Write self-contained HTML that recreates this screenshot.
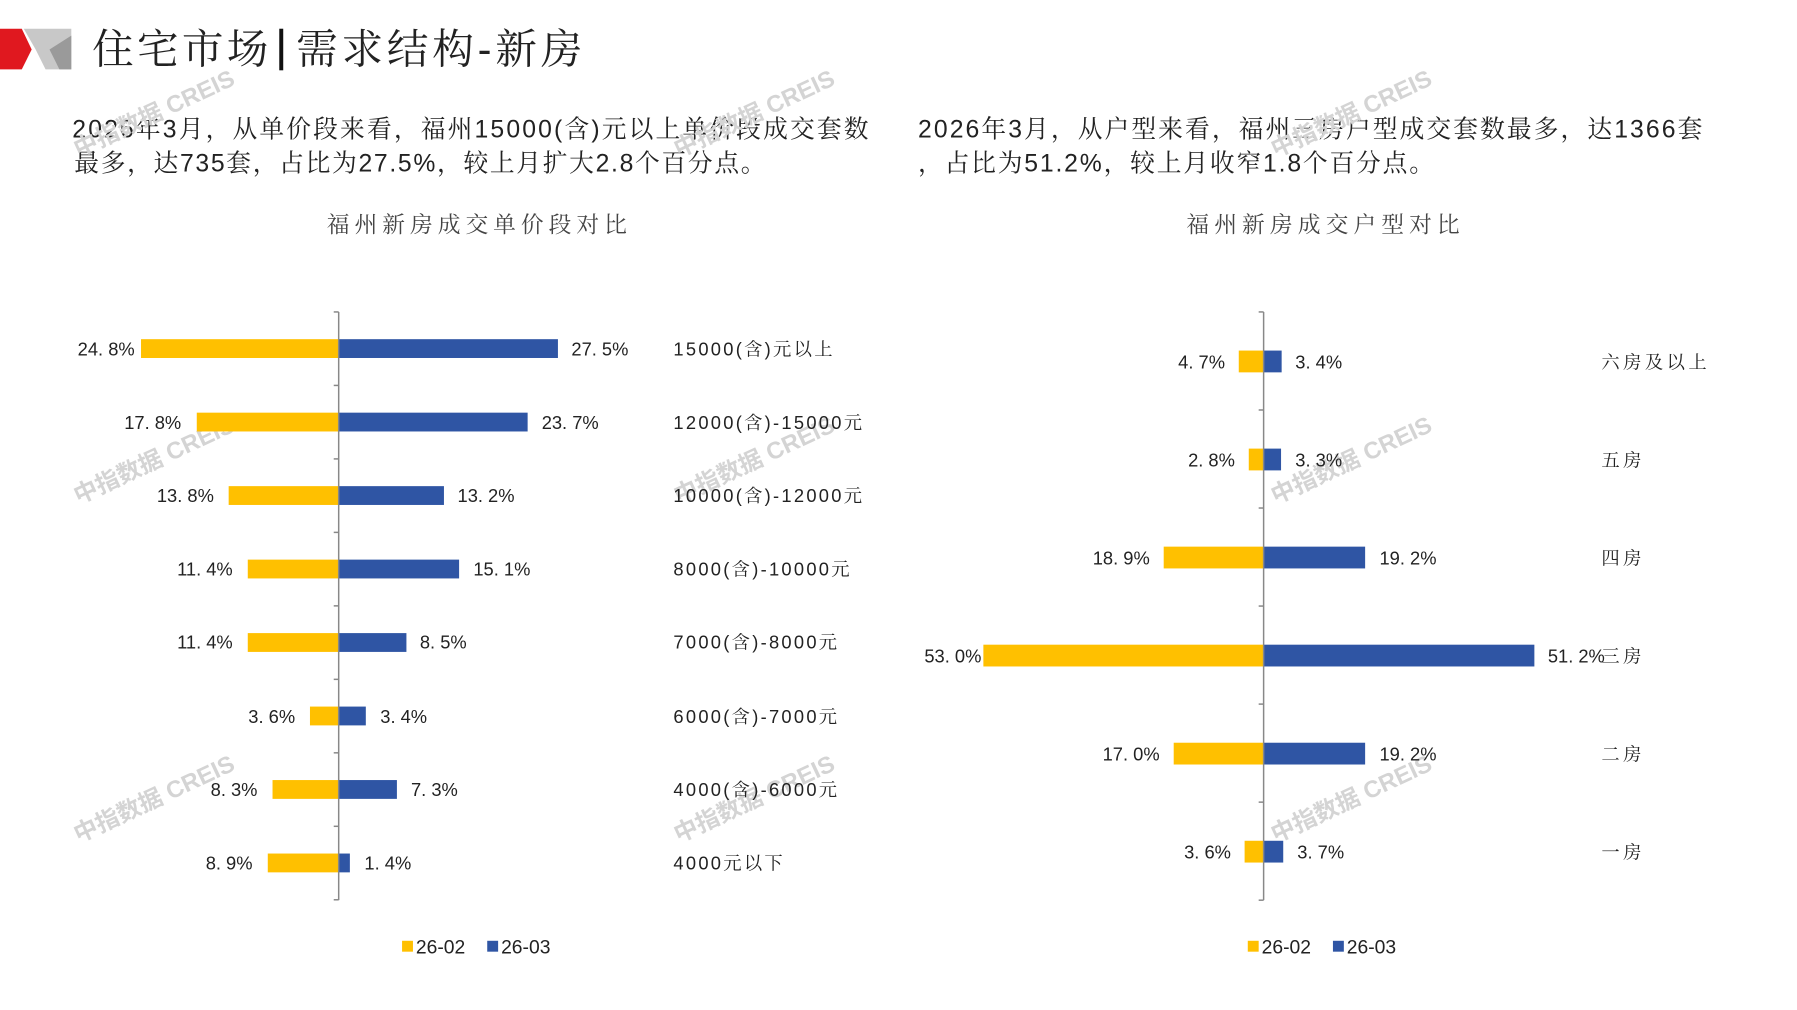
<!DOCTYPE html>
<html><head><meta charset="utf-8"><style>
body{margin:0;background:#fff;}
svg{display:block;}
text{font-family:"Liberation Sans","Noto Serif CJK SC",serif;fill:#222;}
.l{font-size:18.5px;}
.cl{font-size:18.5px;letter-spacing:2.3px;}
.cr{font-size:18.5px;letter-spacing:3.5px;}
.lg{font-size:19.5px;}
.wm{font-family:"Liberation Sans","Noto Sans CJK SC",sans-serif;font-size:24px;fill:#d4d4d4;font-weight:bold;}
</style></head><body>
<svg width="1797" height="1010" viewBox="0 0 1797 1010" xmlns="http://www.w3.org/2000/svg">
<g transform="scale(0.9903)">
<!-- logo -->
<polygon points="0,29 22,29 32,50 22,70 0,70" fill="#e0181f"/>
<polygon points="24,29 72,29 72,70 46,70 36,50" fill="#c8c8c8"/>
<polygon points="50,50 72,36 72,70 60,70" fill="#9a9a9a"/>
<text x="93" y="64" style="font-size:42px;" textLength="178" lengthAdjust="spacing">住宅市场</text>
<rect x="282" y="29" width="4" height="42" fill="#111"/>
<text x="299" y="64" style="font-size:42px;" textLength="289" lengthAdjust="spacing">需求结构-新房</text>
<!-- paragraphs -->
<text x="73" y="139" style="font-size:25px;" textLength="804" lengthAdjust="spacing">2026年3月，从单价段来看，福州15000(含)元以上单价段成交套数</text>
<text x="75" y="173" style="font-size:25px;" textLength="698" lengthAdjust="spacing">最多，达735套，占比为27.5%，较上月扩大2.8个百分点。</text>
<text x="927" y="139" style="font-size:25px;" textLength="792" lengthAdjust="spacing">2026年3月，从户型来看，福州三房户型成交套数最多，达1366套</text>
<text x="927" y="173" style="font-size:25px;" textLength="521" lengthAdjust="spacing">，占比为51.2%，较上月收窄1.8个百分点。</text>
<text x="330" y="235" style="font-size:23px;fill:#444;" textLength="303" lengthAdjust="spacing">福州新房成交单价段对比</text>
<text x="1198" y="235" style="font-size:23px;fill:#444;" textLength="276" lengthAdjust="spacing">福州新房成交户型对比</text>
<!-- watermarks -->
<g>
<text class="wm" transform="translate(159,122) rotate(-25)" text-anchor="middle">中指数据 CREIS</text>
<text class="wm" transform="translate(765,122) rotate(-25)" text-anchor="middle">中指数据 CREIS</text>
<text class="wm" transform="translate(1368,122) rotate(-25)" text-anchor="middle">中指数据 CREIS</text>
<text class="wm" transform="translate(159,472) rotate(-25)" text-anchor="middle">中指数据 CREIS</text>
<text class="wm" transform="translate(765,472) rotate(-25)" text-anchor="middle">中指数据 CREIS</text>
<text class="wm" transform="translate(1368,472) rotate(-25)" text-anchor="middle">中指数据 CREIS</text>
<text class="wm" transform="translate(159,814) rotate(-25)" text-anchor="middle">中指数据 CREIS</text>
<text class="wm" transform="translate(765,814) rotate(-25)" text-anchor="middle">中指数据 CREIS</text>
<text class="wm" transform="translate(1368,814) rotate(-25)" text-anchor="middle">中指数据 CREIS</text>
</g>
<!-- LEFT CHART -->
<g>
<rect x="142.4" y="342.5" width="199.6" height="19" fill="#FFC000"/><rect x="342" y="342.5" width="221.4" height="19" fill="#2F55A4"/>
<text class="l" x="136" y="359" text-anchor="end">24. 8%</text><text class="l" x="577" y="359">27. 5%</text>
<text class="cl" x="680" y="359">15000(含)元以上</text>

<rect x="198.7" y="416.7" width="143.3" height="19" fill="#FFC000"/><rect x="342" y="416.7" width="190.8" height="19" fill="#2F55A4"/>
<text class="l" x="183" y="433" text-anchor="end">17. 8%</text><text class="l" x="547" y="433">23. 7%</text>
<text class="cl" x="680" y="433">12000(含)-15000元</text>

<rect x="230.9" y="490.9" width="111.1" height="19" fill="#FFC000"/><rect x="342" y="490.9" width="106.3" height="19" fill="#2F55A4"/>
<text class="l" x="216" y="507" text-anchor="end">13. 8%</text><text class="l" x="462" y="507">13. 2%</text>
<text class="cl" x="680" y="507">10000(含)-12000元</text>

<rect x="250.2" y="565.1" width="91.8" height="19" fill="#FFC000"/><rect x="342" y="565.1" width="121.6" height="19" fill="#2F55A4"/>
<text class="l" x="235" y="581" text-anchor="end">11. 4%</text><text class="l" x="478" y="581">15. 1%</text>
<text class="cl" x="680" y="581">8000(含)-10000元</text>

<rect x="250.2" y="639.3" width="91.8" height="19" fill="#FFC000"/><rect x="342" y="639.3" width="68.4" height="19" fill="#2F55A4"/>
<text class="l" x="235" y="655" text-anchor="end">11. 4%</text><text class="l" x="424" y="655">8. 5%</text>
<text class="cl" x="680" y="655">7000(含)-8000元</text>

<rect x="313" y="713.5" width="29" height="19" fill="#FFC000"/><rect x="342" y="713.5" width="27.4" height="19" fill="#2F55A4"/>
<text class="l" x="298" y="730" text-anchor="end">3. 6%</text><text class="l" x="384" y="730">3. 4%</text>
<text class="cl" x="680" y="730">6000(含)-7000元</text>

<rect x="275.2" y="787.7" width="66.8" height="19" fill="#FFC000"/><rect x="342" y="787.7" width="58.8" height="19" fill="#2F55A4"/>
<text class="l" x="260" y="804" text-anchor="end">8. 3%</text><text class="l" x="415" y="804">7. 3%</text>
<text class="cl" x="680" y="804">4000(含)-6000元</text>

<rect x="270.4" y="861.9" width="71.6" height="19" fill="#FFC000"/><rect x="342" y="861.9" width="11.3" height="19" fill="#2F55A4"/>
<text class="l" x="255" y="878" text-anchor="end">8. 9%</text><text class="l" x="368" y="878">1. 4%</text>
<text class="cl" x="680" y="878">4000元以下</text>

<line x1="342" y1="315" x2="342" y2="909" stroke="#888" stroke-width="1.5"/>
<g stroke="#888" stroke-width="1.5">
<line x1="337" y1="315" x2="342" y2="315"/><line x1="337" y1="389.2" x2="342" y2="389.2"/><line x1="337" y1="463.4" x2="342" y2="463.4"/><line x1="337" y1="537.6" x2="342" y2="537.6"/><line x1="337" y1="611.8" x2="342" y2="611.8"/><line x1="337" y1="686" x2="342" y2="686"/><line x1="337" y1="760.2" x2="342" y2="760.2"/><line x1="337" y1="834.4" x2="342" y2="834.4"/><line x1="337" y1="908.6" x2="342" y2="908.6"/>
</g>
<rect x="406" y="950" width="11" height="11" fill="#FFC000"/><text class="lg" x="420" y="963">26-02</text>
<rect x="492" y="950" width="11" height="11" fill="#2F55A4"/><text class="lg" x="506" y="963">26-03</text>
</g>
<!-- RIGHT CHART -->
<g>
<rect x="1250.9" y="354" width="25.1" height="22" fill="#FFC000"/><rect x="1276" y="354" width="18.2" height="22" fill="#2F55A4"/>
<text class="l" x="1237" y="372" text-anchor="end">4. 7%</text><text class="l" x="1308" y="372">3. 4%</text>
<text class="cr" x="1617" y="372">六房及以上</text>

<rect x="1261" y="453" width="15" height="22" fill="#FFC000"/><rect x="1276" y="453" width="17.6" height="22" fill="#2F55A4"/>
<text class="l" x="1247" y="471" text-anchor="end">2. 8%</text><text class="l" x="1308" y="471">3. 3%</text>
<text class="cr" x="1617" y="471">五房</text>

<rect x="1175.1" y="552" width="100.9" height="22" fill="#FFC000"/><rect x="1276" y="552" width="102.5" height="22" fill="#2F55A4"/>
<text class="l" x="1161" y="570" text-anchor="end">18. 9%</text><text class="l" x="1393" y="570">19. 2%</text>
<text class="cr" x="1617" y="570">四房</text>

<rect x="993" y="651" width="283" height="22" fill="#FFC000"/><rect x="1276" y="651" width="273.4" height="22" fill="#2F55A4"/>
<text class="l" x="991" y="669" text-anchor="end">53. 0%</text><text class="l" x="1563" y="669">51. 2%</text>
<text class="cr" x="1617" y="669">三房</text>

<rect x="1185.2" y="750" width="90.8" height="22" fill="#FFC000"/><rect x="1276" y="750" width="102.5" height="22" fill="#2F55A4"/>
<text class="l" x="1171" y="768" text-anchor="end">17. 0%</text><text class="l" x="1393" y="768">19. 2%</text>
<text class="cr" x="1617" y="768">二房</text>

<rect x="1256.8" y="849" width="19.2" height="22" fill="#FFC000"/><rect x="1276" y="849" width="19.8" height="22" fill="#2F55A4"/>
<text class="l" x="1243" y="867" text-anchor="end">3. 6%</text><text class="l" x="1310" y="867">3. 7%</text>
<text class="cr" x="1617" y="867">一房</text>

<line x1="1276" y1="315" x2="1276" y2="909" stroke="#888" stroke-width="1.5"/>
<g stroke="#888" stroke-width="1.5">
<line x1="1271" y1="315" x2="1276" y2="315"/><line x1="1271" y1="414" x2="1276" y2="414"/><line x1="1271" y1="513" x2="1276" y2="513"/><line x1="1271" y1="612" x2="1276" y2="612"/><line x1="1271" y1="711" x2="1276" y2="711"/><line x1="1271" y1="810" x2="1276" y2="810"/><line x1="1271" y1="909" x2="1276" y2="909"/>
</g>
<rect x="1260" y="950" width="11" height="11" fill="#FFC000"/><text class="lg" x="1274" y="963">26-02</text>
<rect x="1346" y="950" width="11" height="11" fill="#2F55A4"/><text class="lg" x="1360" y="963">26-03</text>
</g>
</g>
</svg>
</body></html>
